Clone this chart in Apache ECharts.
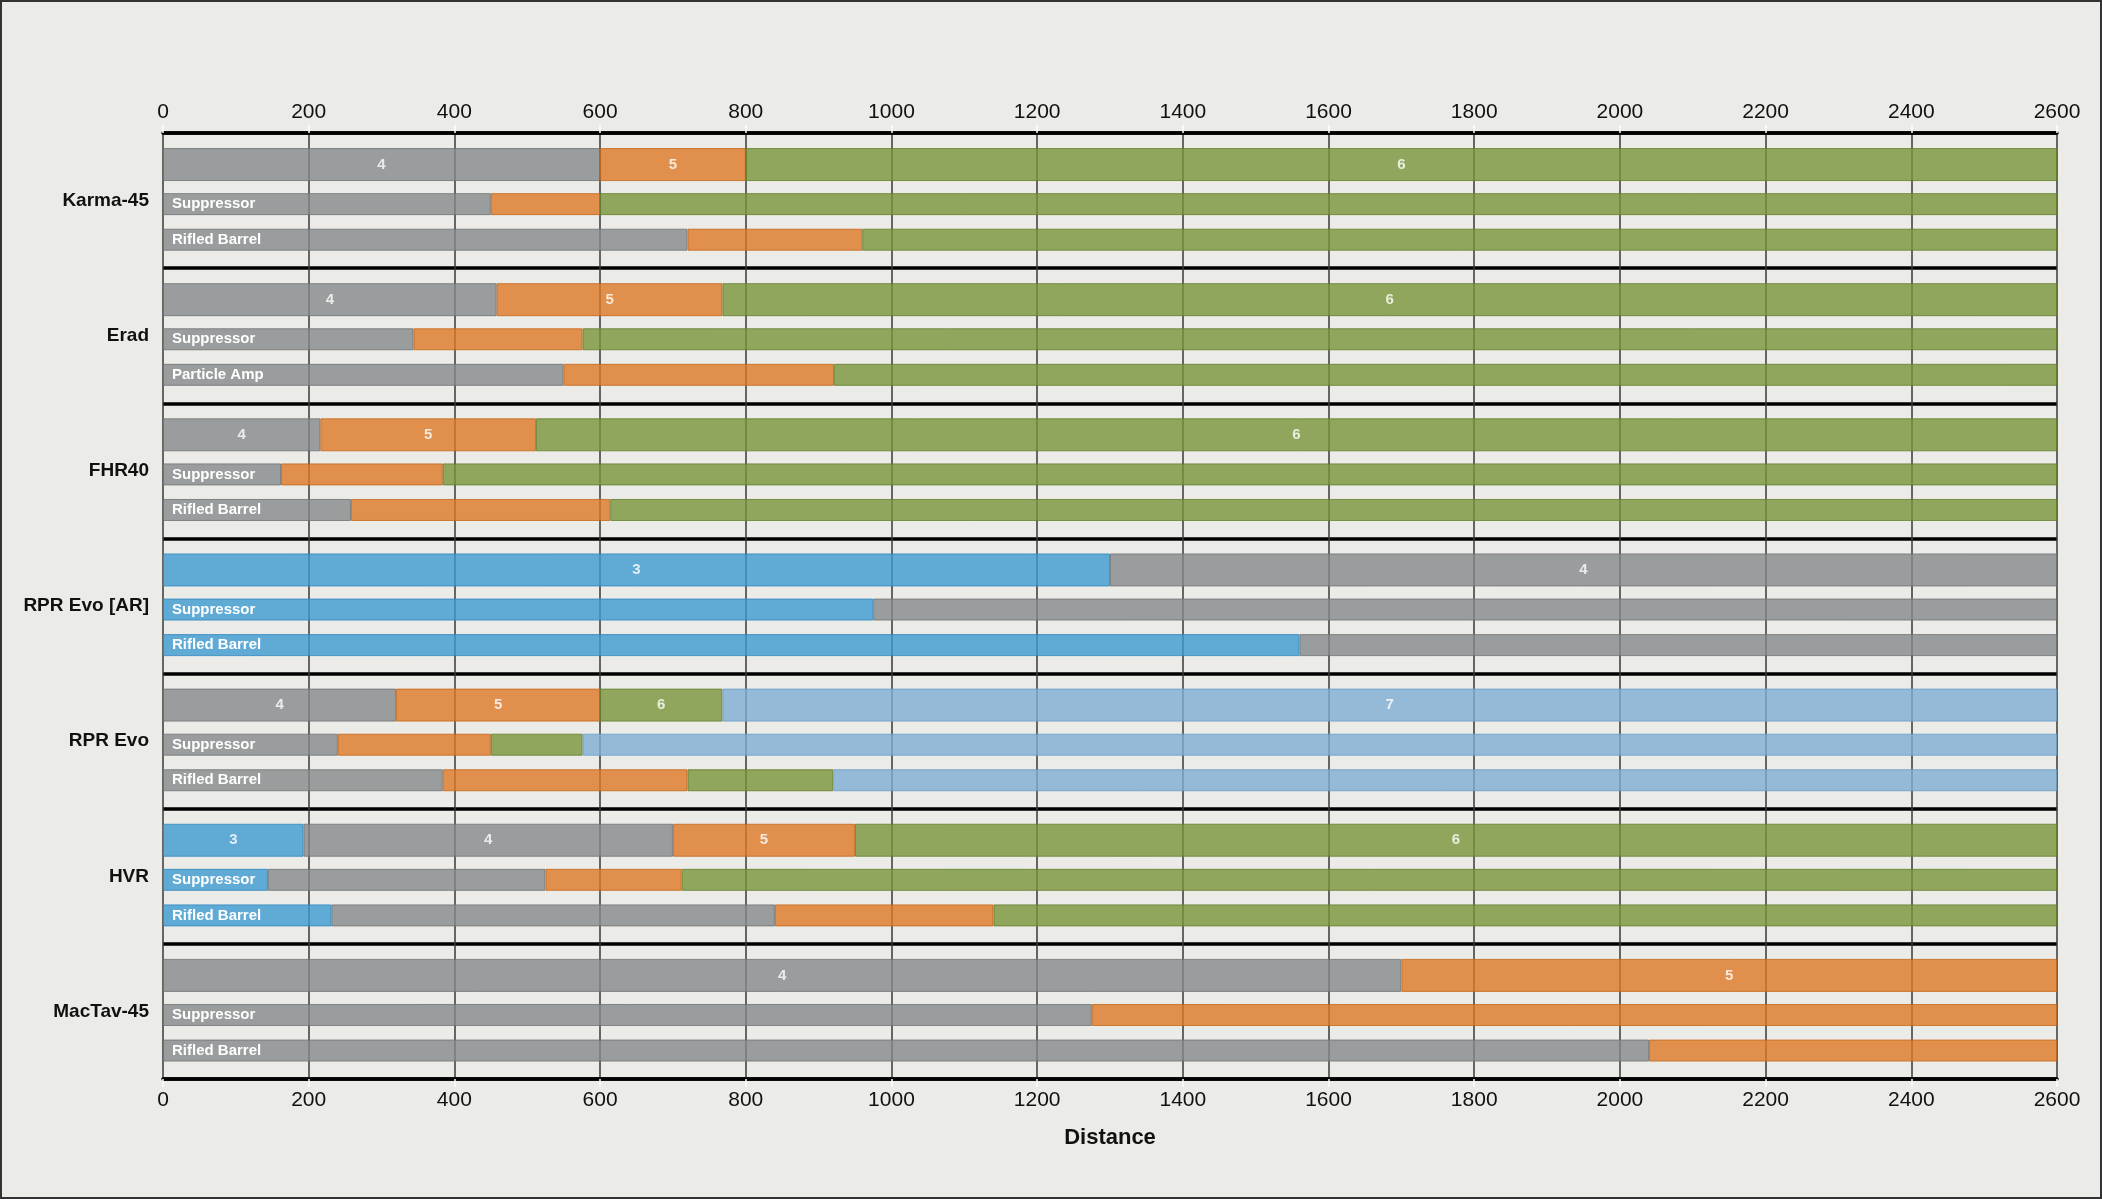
<!DOCTYPE html>
<html>
<head>
<meta charset="utf-8">
<script src="https://cdn.jsdelivr.net/npm/echarts@6/dist/echarts.min.js"></script>
<style>
  html, body { margin: 0; padding: 0; background: #ebebe7; }
  #chart { width: 2102px; height: 1199px; }
</style>
</head>
<body>
<div id="chart"></div>
<script>
// weapons, top to bottom
const groups = ['Karma-45', 'Erad', 'FHR40', 'RPR Evo [AR]', 'RPR Evo', 'HVR', 'MacTav-45']

// two attachment rows under each weapon
const subRowNames = [
  'Suppressor', 'Rifled Barrel',
  'Suppressor', 'Particle Amp',
  'Suppressor', 'Rifled Barrel',
  'Suppressor', 'Rifled Barrel',
  'Suppressor', 'Rifled Barrel',
  'Suppressor', 'Rifled Barrel',
  'Suppressor', 'Rifled Barrel',
]

// shots-to-kill bands
const bands = ['3', '4', '5', '6', '7']

// distance covered by each band, base weapon row
const main3 = [0, 0, 0, 1300, 0, 193, 0]
const main4 = [600, 458, 216, 1300, 320, 507, 1700]
const main5 = [200, 310, 296, 0, 280, 250, 900]
const main6 = [1800, 1832, 2088, 0, 168, 1650, 0]
const main7 = [0, 0, 0, 0, 1832, 0, 0]

// distance covered by each band, attachment rows
const sub3 = [0, 0, 0, 0, 0, 0, 975, 1560, 0, 0, 144, 231, 0, 0]
const sub4 = [450, 720, 344, 550, 162, 258, 1625, 1040, 240, 384, 381, 609, 1275, 2040]
const sub5 = [150, 240, 232, 371, 222, 356, 0, 0, 210, 336, 187, 300, 1325, 560]
const sub6 = [2000, 1640, 2024, 1679, 2216, 1986, 0, 0, 126, 200, 1888, 1460, 0, 0]
const sub7 = [0, 0, 0, 0, 0, 0, 0, 0, 2024, 1680, 0, 0, 0, 0]

const xMin = 0
const xMax = 2600
const xStep = 200

const mainValues = [main3, main4, main5, main6, main7]
const subValues = [sub3, sub4, sub5, sub6, sub7]

const bandColors = ['#3d9ad2', '#86898b', '#dd7825', '#789539', '#7eaed5']
const bandBorders = ['#2f86bd', '#6f7274', '#c4661a', '#647e2c', '#6a9cc6']

const FONT = '"Liberation Sans", Arial, sans-serif'

// slots per weapon block on the two category axes
const MAIN_STEP = 30
const MAIN_AT = 7
const LABEL_AT = 15
const SUB_STEP = 19
const SUB_AT = [10, 15]

const mainCats = []
const mainLabels = []
for (let i = 0; i <= groups.length * MAIN_STEP; i++) {
  mainCats.push('m' + i)
  mainLabels.push('')
}
groups.forEach((g, gi) => { mainLabels[gi * MAIN_STEP + LABEL_AT] = g })

const subCats = []
const subLabels = []
for (let i = 0; i <= groups.length * SUB_STEP; i++) {
  subCats.push('s' + i)
  subLabels.push('')
}
subRowNames.forEach((name, ri) => {
  const gi = Math.floor(ri / 2)
  subLabels[gi * SUB_STEP + SUB_AT[ri % 2]] = name
})

const spreadMain = (values) => {
  const out = mainCats.map(() => '-')
  values.forEach((v, gi) => { if (v) out[gi * MAIN_STEP + MAIN_AT] = v })
  return out
}

const spreadSub = (values) => {
  const out = subCats.map(() => '-')
  values.forEach((v, ri) => {
    const gi = Math.floor(ri / 2)
    if (v) out[gi * SUB_STEP + SUB_AT[ri % 2]] = v
  })
  return out
}

const series = []
bands.forEach((b, bi) => {
  const itemStyle = {
    color: bandColors[bi],
    borderColor: bandBorders[bi],
    borderWidth: 1,
    opacity: 0.8,
  }
  series.push({
    name: b,
    type: 'bar',
    stack: 'main',
    yAxisIndex: 0,
    barWidth: 33,
    data: spreadMain(mainValues[bi]),
    itemStyle,
    label: {
      show: true,
      position: 'inside',
      formatter: (p) => p.seriesName,
      color: '#fff',
      fontFamily: FONT,
      fontWeight: 'bold',
      fontSize: 15,
    },
  })
  series.push({
    name: b,
    type: 'bar',
    stack: 'sub',
    yAxisIndex: 1,
    barWidth: 22,
    data: spreadSub(subValues[bi]),
    itemStyle,
  })
})

const xAxisBase = {
  type: 'value',
  min: xMin,
  max: xMax,
  interval: xStep,
  axisLine: { show: true, lineStyle: { color: '#000', width: 3.5 } },
  axisTick: { show: true, length: 8, lineStyle: { color: '#fff', width: 1.5 } },
  axisLabel: { color: '#111', fontSize: 21, fontFamily: FONT, formatter: (v) => String(v) },
  splitLine: { show: true, lineStyle: { color: '#383838', width: 1.5 } },
}

const chart = echarts.init(document.getElementById('chart'), null, { renderer: 'canvas' })

chart.setOption({
  backgroundColor: '#ebebe7',
  animation: false,
  graphic: [{
    type: 'rect',
    shape: { x: 1, y: 1, width: 2100, height: 1197 },
    style: { fill: null, stroke: '#333', lineWidth: 2 },
    silent: true,
  }],
  grid: { left: 163, right: 45, top: 133, bottom: 120 },
  xAxis: [
    Object.assign({}, xAxisBase, {
      position: 'top',
      axisLabel: Object.assign({}, xAxisBase.axisLabel, { margin: 10 }),
    }),
    Object.assign({}, xAxisBase, {
      position: 'bottom',
      splitLine: { show: false },
      axisLabel: Object.assign({}, xAxisBase.axisLabel, { margin: 11 }),
      name: 'Distance',
      nameLocation: 'middle',
      nameGap: 48,
      nameTextStyle: { color: '#111', fontSize: 22, fontWeight: 'bold', fontFamily: FONT },
    }),
  ],
  yAxis: [
    {
      type: 'category',
      inverse: true,
      boundaryGap: false,
      position: 'left',
      data: mainCats,
      axisLine: { show: false },
      axisTick: { show: false },
      axisLabel: {
        interval: 0,
        margin: 14,
        color: '#111',
        fontSize: 19,
        fontWeight: 'bold',
        fontFamily: FONT,
        formatter: (v, i) => mainLabels[i],
      },
      splitLine: {
        show: true,
        interval: (i) => i % MAIN_STEP === 0,
        lineStyle: { color: '#000', width: 3.5 },
      },
    },
    {
      type: 'category',
      inverse: true,
      boundaryGap: false,
      position: 'left',
      z: 5,
      data: subCats,
      axisLine: { show: false },
      axisTick: { show: false },
      splitLine: { show: false },
      axisLabel: {
        inside: true,
        interval: 0,
        margin: 9,
        color: '#fff',
        fontSize: 15,
        fontWeight: 'bold',
        fontFamily: FONT,
        formatter: (v, i) => subLabels[i],
      },
    },
  ],
  series,
})

window.addEventListener('resize', () => chart.resize())
</script>
</body>
</html>
